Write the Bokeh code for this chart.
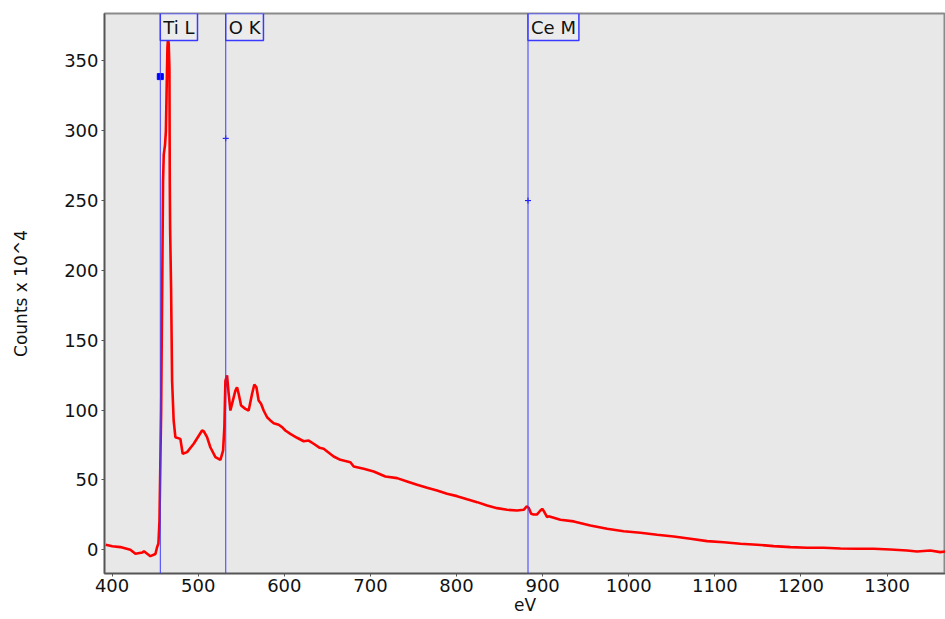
from bokeh.plotting import figure
from bokeh.models import Range1d, Span, Label, FixedTicker, ColumnDataSource
from bokeh.embed import file_html
from bokeh.resources import INLINE

# Spectrum (eV, counts x 10^4)
energy_ev = [392.6, 400.3, 409.6, 421.2, 427.1, 435.2, 437.0, 444.5, 450.3, 452.3, 453.8,
             455.0, 456.0, 457.0, 457.8, 458.5, 459.2, 460.0, 461.5, 462.5, 463.5, 464.3,
             465.0, 465.8, 466.6, 467.0, 467.4, 468.5, 469.7, 471.5, 473.5, 479.3, 482.0,
             487.1, 494.8, 504.5, 506.4, 510.3, 514.1, 520.0, 525.8, 528.9, 530.4, 531.6,
             533.5, 535.4, 537.4, 539.3, 543.2, 545.1, 547.0, 549.8, 554.8, 558.6, 562.6,
             565.2, 567.6, 570.2, 573.0, 576.0, 580.0, 583.8, 587.7, 593.5, 597.4, 601.2,
             607.0, 614.8, 622.5, 628.3, 634.1, 641.1, 645.7, 657.3, 665.1, 676.7, 680.6,
             692.2, 703.8, 717.4, 731.0, 742.6, 754.2, 765.8, 777.4, 789.0, 800.6, 812.3,
             823.9, 835.5, 847.1, 858.7, 870.3, 878.0, 881.5, 883.8, 886.6, 889.6, 893.5,
             897.4, 899.5, 902.0, 905.2, 907.0, 920.6, 936.1, 955.4, 974.8, 994.1, 1013.5,
             1032.9, 1052.2, 1071.6, 1091.0, 1110.3, 1129.7, 1149.0, 1168.3, 1187.7, 1207.1,
             1226.4, 1245.8, 1265.2, 1284.5, 1303.8, 1323.2, 1334.8, 1350.2, 1361.8, 1367.6]
counts = [3.6, 2.5, 1.9, 0.0, -2.9, -2.0, -1.0, -4.6, -3.0, 1.9, 4.5,
          20.0, 60.0, 100.0, 160.0, 210.0, 264.0, 283.0, 290.0, 300.0, 335.0, 360.0,
          366.0, 362.0, 345.0, 264.0, 230.0, 188.0, 121.0, 92.6, 80.6, 79.4, 68.7,
          69.9, 75.9, 85.4, 84.9, 80.6, 73.4, 66.3, 64.4, 71.0, 87.8, 121.0,
          124.8, 111.7, 99.7, 104.5, 114.0, 116.4, 111.7, 103.3, 100.9, 99.7, 111.7,
          118.3, 116.4, 106.9, 104.5, 99.7, 94.9, 92.6, 90.6, 89.5, 87.8, 85.4,
          83.0, 80.2, 77.7, 78.2, 75.9, 73.0, 72.3, 66.8, 64.4, 62.7, 59.6,
          58.0, 56.0, 52.5, 51.3, 48.9, 46.5, 44.4, 42.4, 40.1, 38.4, 36.2,
          34.1, 31.7, 29.8, 28.6, 28.1, 28.6, 31.0, 30.1, 25.8, 25.3, 25.3,
          28.1, 29.3, 27.0, 23.3, 24.0, 21.5, 20.3, 17.4, 15.0, 13.3, 12.2,
          10.7, 9.5, 7.9, 6.2, 5.4, 4.3, 3.6, 2.6, 1.9, 1.4,
          1.4, 0.9, 0.7, 0.7, 0.2, -0.5, -1.2, -0.5, -1.7, -1.2]

# Edge markers
edge_names = ["Ti L", "O K", "Ce M"]
edge_ev = [456, 532, 883]
edge_marker_counts = [338.8, 294.6, 250.0]
edge_marker_kind = ["square", "cross", "cross"]

x_ticks = [400, 500, 600, 700, 800, 900, 1000, 1100, 1200, 1300]
y_ticks = [0, 50, 100, 150, 200, 250, 300, 350]

FONT = "DejaVu Sans"
BLUE = "#3a3aff"

p = figure(width=945, height=619, output_backend="svg", toolbar_location=None,
           x_range=Range1d(391.2, 1367.8), y_range=Range1d(-17, 384),
           min_border_left=104, min_border_right=0, min_border_top=13, min_border_bottom=46)

p.background_fill_color = "#e8e8e8"
p.border_fill_color = "white"
p.outline_line_color = "#8a8a8a"
p.outline_line_width = 2
p.grid.visible = False

for ax in (p.xaxis[0], p.yaxis[0]):
    ax.axis_line_color = "#555555"
    ax.axis_line_width = 1.5
    ax.major_tick_line_color = "#555555"
    ax.major_tick_out = 3
    ax.major_tick_in = 0
    ax.minor_tick_line_color = None
    ax.major_label_text_font = FONT
    ax.major_label_text_font_size = "18px"
    ax.major_label_text_color = "#111111"
    ax.axis_label_text_font = FONT
    ax.axis_label_text_font_size = "17px"
    ax.axis_label_text_font_style = "normal"
    ax.axis_label_text_color = "#111111"
    ax.major_label_standoff = 3

p.xaxis[0].ticker = FixedTicker(ticks=x_ticks)
p.yaxis[0].ticker = FixedTicker(ticks=y_ticks)
p.xaxis[0].axis_label = "eV"
p.xaxis[0].axis_label_standoff = 0
p.xaxis[0].major_label_standoff = 2
p.yaxis[0].axis_label = "Counts x 10^4"
p.yaxis[0].axis_label_standoff = 30

src = ColumnDataSource(dict(x=energy_ev, y=counts))
p.line("x", "y", source=src, line_color="#ff0000", line_width=2.6)

for name, ev in zip(edge_names, edge_ev):
    p.add_layout(Span(location=ev, dimension="height", line_color=BLUE, line_width=1))
    p.add_layout(Label(x=ev, y=384, x_units="data", y_units="data", text=name,
                       text_align="left", text_baseline="top",
                       text_font=FONT, text_font_size="18px", text_color="#111111",
                       padding=3, border_line_color=BLUE, border_line_width=1.5,
                       background_fill_color="#ececec"))

msrc = ColumnDataSource(dict(x=edge_ev, y=edge_marker_counts, m=edge_marker_kind))
p.scatter("x", "y", source=msrc, marker="m", size=6, line_color="#0000ff",
          fill_color="#0000ff", line_width=1)

open("out.html", "w").write(file_html(p, INLINE))
